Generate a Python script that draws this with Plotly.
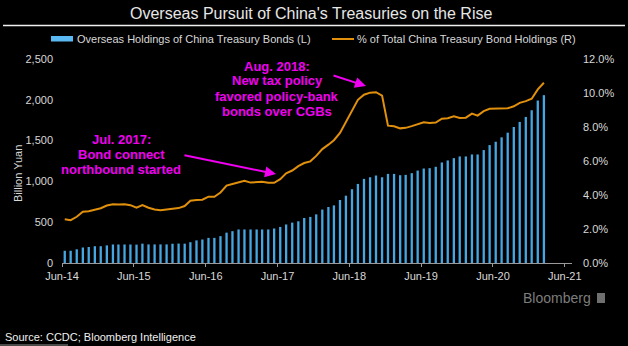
import pandas as pd
import plotly.graph_objects as go

# Monthly observations, Jun-2014 .. Feb-2021
months = pd.date_range("2014-06-01", "2021-02-01", freq="MS") + pd.Timedelta(days=14)

holdings_bn_yuan = [
    150, 150, 168, 190, 196, 206, 206, 216, 227, 227,
    227, 227, 225, 237, 228, 228, 228, 228, 236, 238,
    237, 255, 277, 288, 308, 308, 329, 372, 390, 411,
    411, 411, 411, 411, 411, 423, 442, 472, 495, 511,
    552, 565, 596, 655, 686, 706, 772, 825, 904, 969,
    1031, 1051, 1072, 1051, 1092, 1092, 1076, 1080, 1101, 1133,
    1158, 1162, 1179, 1232, 1257, 1285, 1306, 1306, 1330, 1330,
    1384, 1445, 1486, 1540, 1597, 1667, 1729, 1790, 1872, 1991,
    2057,
]

share_pct = [
    2.58, 2.52, 2.72, 3.01, 3.05, 3.15, 3.22, 3.38, 3.46, 3.44,
    3.46, 3.40, 3.25, 3.41, 3.25, 3.15, 3.10, 3.15, 3.20, 3.23,
    3.35, 3.66, 3.70, 3.72, 3.90, 3.90, 4.15, 4.55, 4.65, 4.75,
    4.83, 4.73, 4.76, 4.78, 4.72, 4.72, 4.93, 5.28, 5.44, 5.70,
    5.88, 5.98, 6.30, 6.70, 6.96, 7.22, 7.65, 8.30, 8.95, 9.60,
    9.90, 10.02, 10.05, 9.85, 8.08, 8.04, 7.92, 7.95, 8.05, 8.16,
    8.28, 8.24, 8.26, 8.49, 8.52, 8.63, 8.53, 8.55, 8.79, 8.67,
    8.93, 9.07, 9.08, 9.05, 9.10, 9.22, 9.42, 9.52, 9.66, 10.21,
    10.60,
]

x_tick_dates = pd.date_range("2014-06-01", "2021-06-01", freq="12MS")
x_tick_labels = [d.strftime("%b-%y") for d in x_tick_dates]
left_ticks = [0, 500, 1000, 1500, 2000, 2500]
left_tick_labels = ["0", "500", "1,000", "1,500", "2,000", "2,500"]
right_ticks = [0, 2, 4, 6, 8, 10, 12]
right_tick_labels = ["0.0%", "2.0%", "4.0%", "6.0%", "8.0%", "10.0%", "12.0%"]

BAR_NAME = "Overseas Holdings of China Treasury Bonds (L)"
LINE_NAME = "% of Total China Treasury Bond Holdings (R)"

W, H = 628, 346
ML, MR, MT, MB = 62, 56, 59, 83
PW, PH = W - ML - MR, H - MT - MB

BAR_COLOR = "#45a6e2"
LINE_COLOR = "#e0900c"
NOTE_COLOR = "#f000f0"
TEXT_COLOR = "#d8d8d8"
FONT = "Liberation Sans, Arial, sans-serif"


def px_x(px):
    return (px - ML) / PW


def px_y(py):
    return (H - MB - py) / PH


fig = go.Figure()
fig.add_trace(go.Bar(
    x=months, y=holdings_bn_yuan, name=BAR_NAME,
    marker=dict(color=BAR_COLOR, line=dict(width=0)),
    yaxis="y", showlegend=False,
))
fig.add_trace(go.Scatter(
    x=months, y=share_pct, name=LINE_NAME, mode="lines",
    line=dict(color=LINE_COLOR, width=2),
    yaxis="y2", showlegend=False,
))

annotations = []

# title and source
annotations.append(dict(
    text="Overseas Pursuit of China's Treasuries on the Rise",
    xref="paper", yref="paper", x=px_x(311), y=px_y(14),
    xanchor="center", yanchor="middle", showarrow=False,
    font=dict(family=FONT, size=16, color="#e6e6e6"),
))
annotations.append(dict(
    text="Source: CCDC; Bloomberg Intelligence",
    xref="paper", yref="paper", x=px_x(3), y=px_y(337),
    xanchor="left", yanchor="middle", showarrow=False,
    font=dict(family=FONT, size=11, color="#f0f0f0"),
))
annotations.append(dict(
    text="Bloomberg",
    xref="paper", yref="paper", x=px_x(593), y=px_y(298),
    xanchor="right", yanchor="middle", showarrow=False,
    font=dict(family=FONT, size=14, color="#7d7d7d"),
))

# legend entries
annotations.append(dict(
    text=BAR_NAME, xref="paper", yref="paper", x=px_x(75), y=px_y(39),
    xanchor="left", yanchor="middle", showarrow=False,
    font=dict(family=FONT, size=11, color=TEXT_COLOR),
))
annotations.append(dict(
    text=LINE_NAME, xref="paper", yref="paper", x=px_x(355), y=px_y(39),
    xanchor="left", yanchor="middle", showarrow=False,
    font=dict(family=FONT, size=11, color=TEXT_COLOR),
))

# left axis title
annotations.append(dict(
    text="Billion Yuan", xref="paper", yref="paper", x=px_x(18), y=px_y(174),
    xanchor="center", yanchor="middle", showarrow=False, textangle=-90,
    font=dict(family=FONT, size=11, color=TEXT_COLOR),
))

# event notes
note1 = ["Jul. 2017:", "Bond connect", "northbound started"]
for i, line in enumerate(note1):
    annotations.append(dict(
        text="<b>%s</b>" % line, xref="paper", yref="paper",
        x=px_x(121), y=px_y(139.5 + 15 * i),
        xanchor="center", yanchor="middle", showarrow=False,
        font=dict(family=FONT, size=13, color=NOTE_COLOR),
    ))
note2 = ["Aug. 2018:", "New tax policy", "favored policy-bank", "bonds over CGBs"]
for i, line in enumerate(note2):
    annotations.append(dict(
        text="<b>%s</b>" % line, xref="paper", yref="paper",
        x=px_x(277), y=px_y(66 + 15 * i),
        xanchor="center", yanchor="middle", showarrow=False,
        font=dict(family=FONT, size=13, color=NOTE_COLOR),
    ))

# arrows
for (tx, ty), (hx, hy) in [((183, 155), (276, 174)), ((332, 75), (366, 86))]:
    annotations.append(dict(
        text="", xref="paper", yref="paper", x=px_x(hx), y=px_y(hy),
        ax=tx - hx, ay=ty - hy, axref="pixel", ayref="pixel",
        showarrow=True, arrowhead=2, arrowsize=1.1, arrowwidth=2,
        arrowcolor=NOTE_COLOR,
    ))

shapes = [
    # rule under the title
    dict(type="line", xref="paper", yref="paper",
         x0=px_x(3), x1=px_x(625), y0=px_y(25.5), y1=px_y(25.5),
         line=dict(color="#f0f0f0", width=1.5)),
    # legend swatches
    dict(type="rect", xref="paper", yref="paper",
         x0=px_x(51), x1=px_x(73), y0=px_y(36), y1=px_y(41.5),
         fillcolor="#5ab9f2", line=dict(width=0)),
    dict(type="line", xref="paper", yref="paper",
         x0=px_x(332), x1=px_x(354), y0=px_y(39), y1=px_y(39),
         line=dict(color=LINE_COLOR, width=2)),
    # logo mark
    dict(type="rect", xref="paper", yref="paper",
         x0=px_x(597), x1=px_x(605), y0=px_y(293), y1=px_y(303),
         fillcolor="#6f6f6f", line=dict(width=0)),
    # source underline
    dict(type="rect", xref="paper", yref="paper",
         x0=px_x(0), x1=px_x(68), y0=px_y(346), y1=px_y(344),
         fillcolor="#4a4a4a", line=dict(width=0)),
]

fig.update_layout(
    width=W, height=H,
    margin=dict(l=ML, r=MR, t=MT, b=MB, pad=0),
    paper_bgcolor="#000000", plot_bgcolor="#000000",
    font=dict(family=FONT, size=11, color=TEXT_COLOR),
    bargap=0.58,
    showlegend=False,
    xaxis=dict(
        type="date",
        range=["2014-06-01", "2021-07-08"],
        tickvals=list(x_tick_dates), ticktext=x_tick_labels,
        ticks="outside", ticklen=3, tickcolor="#9a9a9a",
        showline=True, linecolor="#9a9a9a", linewidth=1,
        showgrid=False, zeroline=False,
        tickfont=dict(family=FONT, size=11, color=TEXT_COLOR),
    ),
    yaxis=dict(
        range=[0, 2500], tickvals=left_ticks, ticktext=left_tick_labels,
        showgrid=False, zeroline=False, showline=False, ticks="",
        ticklabelstandoff=8,
        tickfont=dict(family=FONT, size=11, color=TEXT_COLOR),
    ),
    yaxis2=dict(
        range=[0, 12], tickvals=right_ticks, ticktext=right_tick_labels,
        overlaying="y", side="right",
        showgrid=False, zeroline=False, showline=False, ticks="",
        ticklabelstandoff=10,
        tickfont=dict(family=FONT, size=11, color=TEXT_COLOR),
    ),
    annotations=annotations,
    shapes=shapes,
)

fig.write_html("out.html")
